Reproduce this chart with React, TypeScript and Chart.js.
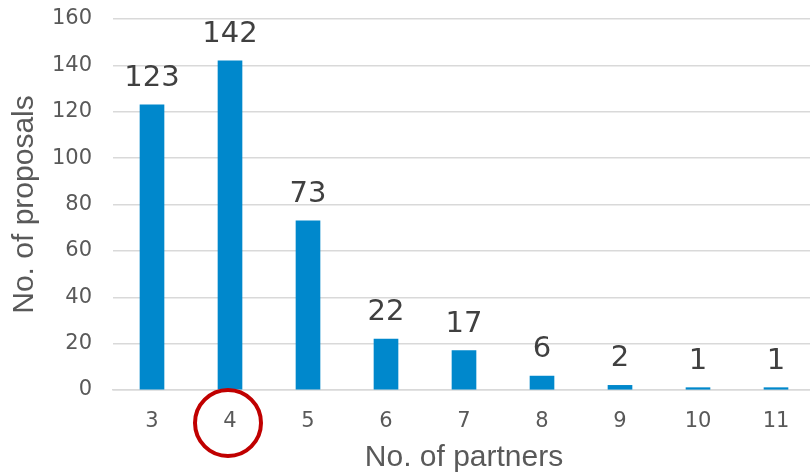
import React, { useEffect, useRef } from "react";
import { Chart, registerables } from "chart.js";

Chart.register(...registerables);

const categories = ["3", "4", "5", "6", "7", "8", "9", "10", "11"];
const proposals = [123, 142, 73, 22, 17, 6, 2, 1, 1];
const yTicks = [0, 20, 40, 60, 80, 100, 120, 140, 160];
const highlightedIndex = 1;

const TITLE_FONT = "'Liberation Sans', Arial, sans-serif";
const NUM_FONT = "'DejaVu Sans', sans-serif";

const valueLabels = {
  id: "valueLabels",
  afterDatasetsDraw(chart: any) {
    const ctx = chart.ctx;
    const meta = chart.getDatasetMeta(0);
    ctx.save();
    ctx.fillStyle = "#404040";
    ctx.font = `29px ${NUM_FONT}`;
    ctx.textAlign = "center";
    ctx.textBaseline = "alphabetic";
    meta.data.forEach((bar: any, i: number) => {
      ctx.fillText(String(proposals[i]), bar.x, bar.y - 19);
    });
    ctx.restore();
  },
};

const circleMark = {
  id: "circleMark",
  afterDraw(chart: any) {
    const ctx = chart.ctx;
    const x = chart.scales.x.getPixelForValue(highlightedIndex);
    const y = chart.chartArea.bottom + 33;
    ctx.save();
    ctx.strokeStyle = "#C00000";
    ctx.lineWidth = 4;
    ctx.beginPath();
    ctx.arc(x - 2, y, 33, 0, Math.PI * 2);
    ctx.stroke();
    ctx.restore();
  },
};

export default function App() {
  const ref = useRef<HTMLCanvasElement>(null);
  useEffect(() => {
    document.body.style.margin = "0";
    document.body.style.overflow = "hidden";
    const chart = new Chart(ref.current!, {
      type: "bar",
      data: {
        labels: categories,
        datasets: [
          {
            data: proposals,
            backgroundColor: "#0088CC",
            barThickness: 24,
          },
        ],
      },
      options: {
        animation: false,
        responsive: false,
        layout: { padding: { top: 19, right: 5, left: 7, bottom: 0 } },
        plugins: { legend: { display: false }, tooltip: { enabled: false } },
        scales: {
          x: {
            afterFit(axis: any) {
              axis.height = 84;
            },
            grid: { display: false, drawTicks: false },
            border: { display: true, color: "#d9d9d9", width: 1.5 },
            ticks: { color: "#595959", font: { family: NUM_FONT, size: 21, lineHeight: 0.5 }, padding: 26 },
            title: {
              display: true,
              text: "No. of partners",
              color: "#595959",
              font: { family: TITLE_FONT, size: 30, lineHeight: 1.1 },
              padding: { top: 0, bottom: 0 },
            },
          },
          y: {
            min: 0,
            max: 160,
            afterBuildTicks(axis: any) {
              axis.ticks = yTicks.map((v) => ({ value: v }));
            },
            afterFit(axis: any) {
              axis.width = 106;
              axis.paddingTop = 0;
              axis.paddingBottom = 0;
            },
            grid: { color: "#d9d9d9", lineWidth: 1.5, drawTicks: false },
            border: { display: false },
            ticks: { color: "#595959", font: { family: NUM_FONT, size: 21, lineHeight: 0.5 }, padding: 21 },
            title: {
              display: true,
              text: "No. of proposals",
              color: "#595959",
              font: { family: TITLE_FONT, size: 30 },
              padding: { top: 0, bottom: 0 },
            },
          },
        },
      },
      plugins: [valueLabels, circleMark],
    });
    return () => chart.destroy();
  }, []);
  return (
    <div style={{ width: 810, height: 474, overflow: "hidden", position: "relative" }}>
      <canvas ref={ref} width={820} height={474} style={{ position: "absolute", left: 0, top: 0 }} />
    </div>
  );
}
